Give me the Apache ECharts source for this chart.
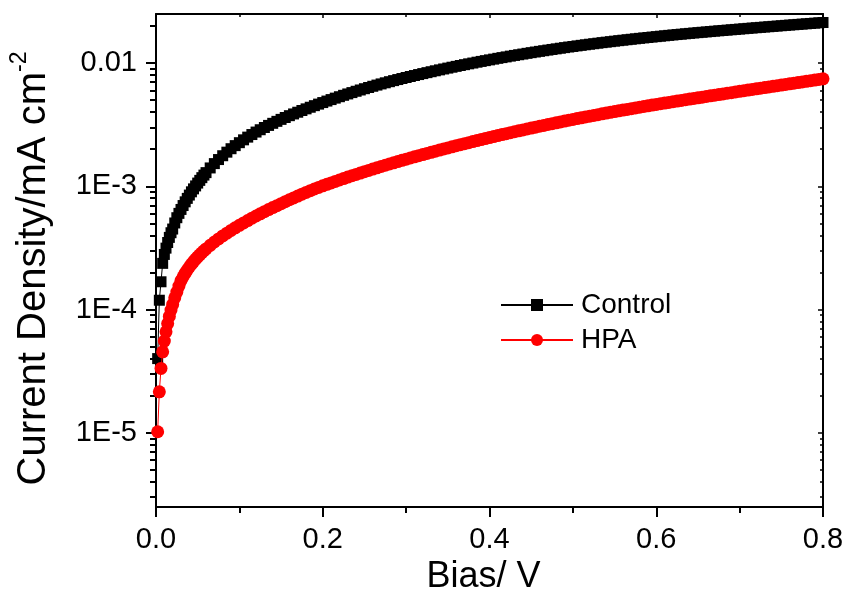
<!DOCTYPE html>
<html>
<head>
<meta charset="utf-8">
<script src="https://cdn.jsdelivr.net/npm/echarts@6/dist/echarts.min.js"></script>
<style>html,body{margin:0;padding:0;background:#fff}#c{width:848px;height:605px}</style>
</head>
<body>
<div id="c"></div>
<script>
// ---- data ----
const bias = [
  0.002,0.004,0.006,0.008,0.010,0.012,0.014,0.016,0.018,
  0.020,0.0225,0.025,0.0275,0.030,0.0325,0.035,0.0375,0.040,0.0425,
  0.045,0.0475,0.050,0.0525,0.055,0.0575,0.060,0.065,
  0.070,0.075,0.080,0.085,0.090,0.095,0.100,0.105,0.110,0.115,
  0.120,0.125,0.130,0.135,0.140,0.145,0.150,0.155,0.160,0.165,
  0.170,0.175,0.180,0.185,0.190,0.195,0.200,0.205,0.210,0.215,
  0.220,0.225,0.230,0.235,0.240,0.245,0.250,0.255,0.260,0.265,
  0.270,0.275,0.280,0.285,0.290,0.295,0.300,0.305,0.310,0.315,
  0.320,0.325,0.330,0.335,0.340,0.345,0.350,0.355,0.360,0.365,
  0.370,0.375,0.380,0.385,0.390,0.395,0.400,0.405,0.410,0.415,
  0.420,0.425,0.430,0.435,0.440,0.445,0.450,0.455,0.460,0.465,
  0.470,0.475,0.480,0.485,0.490,0.495,0.500,0.505,0.510,0.515,
  0.520,0.525,0.530,0.535,0.540,0.545,0.550,0.555,0.560,0.565,
  0.570,0.575,0.580,0.585,0.590,0.595,0.600,0.605,0.610,0.615,
  0.620,0.625,0.630,0.635,0.640,0.645,0.650,0.655,0.660,0.665,
  0.670,0.675,0.680,0.685,0.690,0.695,0.700,0.705,0.710,0.715,
  0.720,0.725,0.730,0.735,0.740,0.745,0.750,0.755,0.760,0.765,
  0.770,0.775,0.780,0.785,0.790,0.795,0.800
];
const controlJ = [
  4.0e-5,1.19e-4,1.68e-4,2.37e-4,2.80e-4,3.15e-4,3.50e-4,3.85e-4,4.20e-4,
  4.50e-4,5.04e-4,5.56e-4,6.03e-4,6.49e-4,6.98e-4,7.48e-4,7.98e-4,8.49e-4,9.02e-4,
  9.53e-4,1.007e-3,1.062e-3,1.117e-3,1.175e-3,1.233e-3,1.291e-3,1.409e-3,
  1.528e-3,1.648e-3,1.770e-3,1.892e-3,2.018e-3,2.138e-3,2.259e-3,2.382e-3,2.506e-3,2.630e-3,
  2.754e-3,2.877e-3,2.999e-3,3.119e-3,3.243e-3,3.365e-3,3.491e-3,3.614e-3,3.741e-3,3.864e-3,
  3.990e-3,4.121e-3,4.249e-3,4.379e-3,4.511e-3,4.644e-3,4.779e-3,4.915e-3,5.053e-3,5.192e-3,
  5.331e-3,5.473e-3,5.615e-3,5.757e-3,5.902e-3,6.046e-3,6.191e-3,6.335e-3,6.479e-3,6.626e-3,
  6.771e-3,6.914e-3,7.059e-3,7.202e-3,7.346e-3,7.488e-3,7.631e-3,7.775e-3,7.920e-3,8.065e-3,
  8.211e-3,8.358e-3,8.505e-3,8.654e-3,8.802e-3,8.951e-3,9.101e-3,9.251e-3,9.401e-3,9.552e-3,
  9.703e-3,9.854e-3,1.000e-2,1.016e-2,1.031e-2,1.046e-2,1.061e-2,1.076e-2,1.092e-2,1.107e-2,
  1.122e-2,1.138e-2,1.153e-2,1.168e-2,1.183e-2,1.199e-2,1.214e-2,1.229e-2,1.244e-2,1.259e-2,
  1.274e-2,1.289e-2,1.304e-2,1.319e-2,1.334e-2,1.349e-2,1.363e-2,1.378e-2,1.392e-2,1.407e-2,
  1.421e-2,1.435e-2,1.449e-2,1.464e-2,1.477e-2,1.491e-2,1.505e-2,1.519e-2,1.532e-2,1.546e-2,
  1.559e-2,1.573e-2,1.586e-2,1.599e-2,1.612e-2,1.625e-2,1.638e-2,1.651e-2,1.664e-2,1.677e-2,
  1.690e-2,1.703e-2,1.715e-2,1.728e-2,1.740e-2,1.753e-2,1.765e-2,1.777e-2,1.789e-2,1.801e-2,
  1.814e-2,1.826e-2,1.838e-2,1.850e-2,1.862e-2,1.874e-2,1.886e-2,1.898e-2,1.911e-2,1.923e-2,
  1.935e-2,1.947e-2,1.959e-2,1.971e-2,1.984e-2,1.996e-2,2.008e-2,2.021e-2,2.033e-2,2.045e-2,
  2.058e-2,2.070e-2,2.082e-2,2.095e-2,2.107e-2,2.120e-2,2.132e-2
];
const hpaJ = [
  1.02e-5,2.15e-5,3.33e-5,4.54e-5,5.55e-5,6.59e-5,7.70e-5,8.80e-5,9.90e-5,
  1.100e-4,1.245e-4,1.387e-4,1.549e-4,1.718e-4,1.845e-4,1.972e-4,2.094e-4,2.213e-4,2.333e-4,
  2.449e-4,2.564e-4,2.673e-4,2.780e-4,2.891e-4,2.999e-4,3.105e-4,3.319e-4,
  3.532e-4,3.741e-4,3.954e-4,4.169e-4,4.385e-4,4.603e-4,4.819e-4,5.047e-4,5.272e-4,5.508e-4,
  5.741e-4,5.984e-4,6.223e-4,6.471e-4,6.714e-4,6.966e-4,7.228e-4,7.499e-4,7.780e-4,8.054e-4,
  8.337e-4,8.630e-4,8.923e-4,9.215e-4,9.506e-4,9.795e-4,1.008e-3,1.037e-3,1.066e-3,1.095e-3,
  1.125e-3,1.156e-3,1.187e-3,1.218e-3,1.249e-3,1.281e-3,1.314e-3,1.346e-3,1.379e-3,1.413e-3,
  1.447e-3,1.481e-3,1.516e-3,1.551e-3,1.587e-3,1.623e-3,1.660e-3,1.696e-3,1.733e-3,1.771e-3,
  1.809e-3,1.848e-3,1.887e-3,1.927e-3,1.967e-3,2.008e-3,2.049e-3,2.090e-3,2.132e-3,2.175e-3,
  2.218e-3,2.261e-3,2.305e-3,2.350e-3,2.394e-3,2.440e-3,2.486e-3,2.532e-3,2.578e-3,2.626e-3,
  2.673e-3,2.721e-3,2.770e-3,2.819e-3,2.868e-3,2.918e-3,2.968e-3,3.018e-3,3.069e-3,3.120e-3,
  3.172e-3,3.223e-3,3.276e-3,3.328e-3,3.381e-3,3.434e-3,3.487e-3,3.541e-3,3.594e-3,3.648e-3,
  3.703e-3,3.758e-3,3.813e-3,3.869e-3,3.924e-3,3.981e-3,4.037e-3,4.093e-3,4.150e-3,4.207e-3,
  4.265e-3,4.323e-3,4.381e-3,4.440e-3,4.500e-3,4.559e-3,4.619e-3,4.677e-3,4.735e-3,4.795e-3,
  4.853e-3,4.914e-3,4.975e-3,5.037e-3,5.099e-3,5.161e-3,5.225e-3,5.289e-3,5.353e-3,5.418e-3,
  5.484e-3,5.551e-3,5.618e-3,5.686e-3,5.754e-3,5.823e-3,5.893e-3,5.964e-3,6.034e-3,6.105e-3,
  6.180e-3,6.253e-3,6.327e-3,6.401e-3,6.477e-3,6.553e-3,6.629e-3,6.707e-3,6.785e-3,6.863e-3,
  6.944e-3,7.024e-3,7.106e-3,7.188e-3,7.271e-3,7.356e-3,7.441e-3
];
const seriesNames = ['Control', 'HPA'];
const xTickLabels = ['0.0', '0.2', '0.4', '0.6', '0.8'];
const yTickValues = [1e-5, 1e-4, 1e-3, 1e-2];
const yTickLabels = ['1E-5', '1E-4', '1E-3', '0.01'];
const yMinorValues = [
  3e-6,4e-6,5e-6,6e-6,7e-6,8e-6,9e-6,
  2e-5,3e-5,4e-5,5e-5,6e-5,7e-5,8e-5,9e-5,
  2e-4,3e-4,4e-4,5e-4,6e-4,7e-4,8e-4,9e-4,
  2e-3,3e-3,4e-3,5e-3,6e-3,7e-3,8e-3,9e-3,
  2e-2
];
const xRange = [0, 0.8];
const yRange = [2.5e-6, 0.025];

// ---- chart ----
const FONT = "'Liberation Sans', Arial, Helvetica, sans-serif";
const chart = echarts.init(document.getElementById('c'), null, { renderer: 'canvas' });

const axisLineStyle = { color: '#000', width: 2 };
function yLabel(v) {
  for (let i = 0; i < yTickValues.length; i++) {
    if (Math.abs(Math.log10(yTickValues[i]) - Math.log10(v)) < 1e-6) return yTickLabels[i];
  }
  return '';
}
function xLabel(v) {
  const i = Math.round(v / 0.2);
  return xTickLabels[i] !== undefined ? xTickLabels[i] : '';
}
function logAxis(extra) {
  return Object.assign({
    type: 'log', logBase: 10, min: yRange[0], max: yRange[1],
    splitLine: { show: false }, minorSplitLine: { show: false },
    minorTick: { show: false },
    axisLabel: { show: false }
  }, extra);
}

const option = {
  animation: false,
  backgroundColor: '#ffffff',
  grid: { left: 154, right: 25, top: 14, bottom: 98 },
  legend: {
    data: seriesNames,
    orient: 'vertical',
    left: 495,
    top: 286,
    itemWidth: 72,
    itemHeight: 15,
    itemGap: 7,
    textStyle: { fontFamily: FONT, fontSize: 28, color: '#000', padding: [0, 0, 0, 3] }
  },
  xAxis: [
    {
      type: 'value', position: 'bottom', min: xRange[0], max: xRange[1], interval: 0.2,
      name: 'Bias/ V', nameLocation: 'middle', nameGap: 48,
      nameTextStyle: { fontFamily: FONT, fontSize: 36, color: '#000', padding: [0, 12, 0, 0] },
      axisLine: { show: true, lineStyle: axisLineStyle },
      axisTick: { show: true, inside: false, length: 10, lineStyle: axisLineStyle },
      minorTick: { show: true, splitNumber: 2, length: 6, lineStyle: axisLineStyle },
      axisLabel: { margin: 18, fontFamily: FONT, fontSize: 29, color: '#000', formatter: xLabel },
      splitLine: { show: false }
    },
    {
      type: 'value', position: 'top', min: xRange[0], max: xRange[1], interval: 0.2,
      axisLine: { show: true, lineStyle: axisLineStyle },
      axisTick: { show: true, inside: true, length: 4, lineStyle: { color: '#000', width: 1.5 } },
      minorTick: { show: true, splitNumber: 2, length: 3, lineStyle: { color: '#000', width: 1.5 } },
      axisLabel: { show: false },
      splitLine: { show: false }
    }
  ],
  yAxis: [
    logAxis({
      position: 'left',
      name: '{m|Current Density/mA cm}{s|-2}',
      nameLocation: 'middle', nameGap: 102,
      nameTextStyle: {
        fontFamily: FONT, color: '#000', padding: [0, 16, 0, 0],
        rich: {
          m: { fontFamily: FONT, fontSize: 40, color: '#000', lineHeight: 46, verticalAlign: 'bottom' },
          s: { fontFamily: FONT, fontSize: 23, color: '#000', lineHeight: 46, verticalAlign: 'top' }
        }
      },
      axisLine: { show: true, lineStyle: axisLineStyle },
      axisTick: { show: true, inside: false, length: 10, customValues: yTickValues, lineStyle: axisLineStyle },
      axisLabel: { show: true, customValues: yTickValues, margin: 19, fontFamily: FONT, fontSize: 29, color: '#000', formatter: yLabel }
    }),
    logAxis({
      position: 'left',
      axisLine: { show: false },
      axisTick: { show: true, inside: false, length: 6, customValues: yMinorValues, lineStyle: axisLineStyle }
    }),
    logAxis({
      position: 'right',
      axisLine: { show: true, lineStyle: axisLineStyle },
      axisTick: { show: true, inside: true, length: 5, customValues: yTickValues, lineStyle: { color: '#000', width: 1.5 } }
    }),
    logAxis({
      position: 'right',
      axisLine: { show: false },
      axisTick: { show: true, inside: true, length: 3, customValues: yMinorValues, lineStyle: { color: '#000', width: 1.5 } }
    })
  ],
  series: [
    {
      name: seriesNames[0], type: 'line', xAxisIndex: 0, yAxisIndex: 0,
      data: bias.map((v, i) => [v, controlJ[i]]),
      symbol: 'rect', symbolSize: 11, showSymbol: true,
      lineStyle: { color: '#000', width: 1 },
      itemStyle: { color: '#000', borderWidth: 0, borderColor: '#000' },
      emphasis: { disabled: true },
      z: 3
    },
    {
      name: seriesNames[1], type: 'line', xAxisIndex: 0, yAxisIndex: 0,
      data: bias.map((v, i) => [v, hpaJ[i]]),
      symbol: 'circle', symbolSize: 13, showSymbol: true,
      lineStyle: { color: '#ff0000', width: 1 },
      itemStyle: { color: '#ff0000', borderWidth: 0, borderColor: '#ff0000' },
      emphasis: { disabled: true },
      z: 4
    }
  ]
};
chart.setOption(option);
</script>
</body>
</html>
